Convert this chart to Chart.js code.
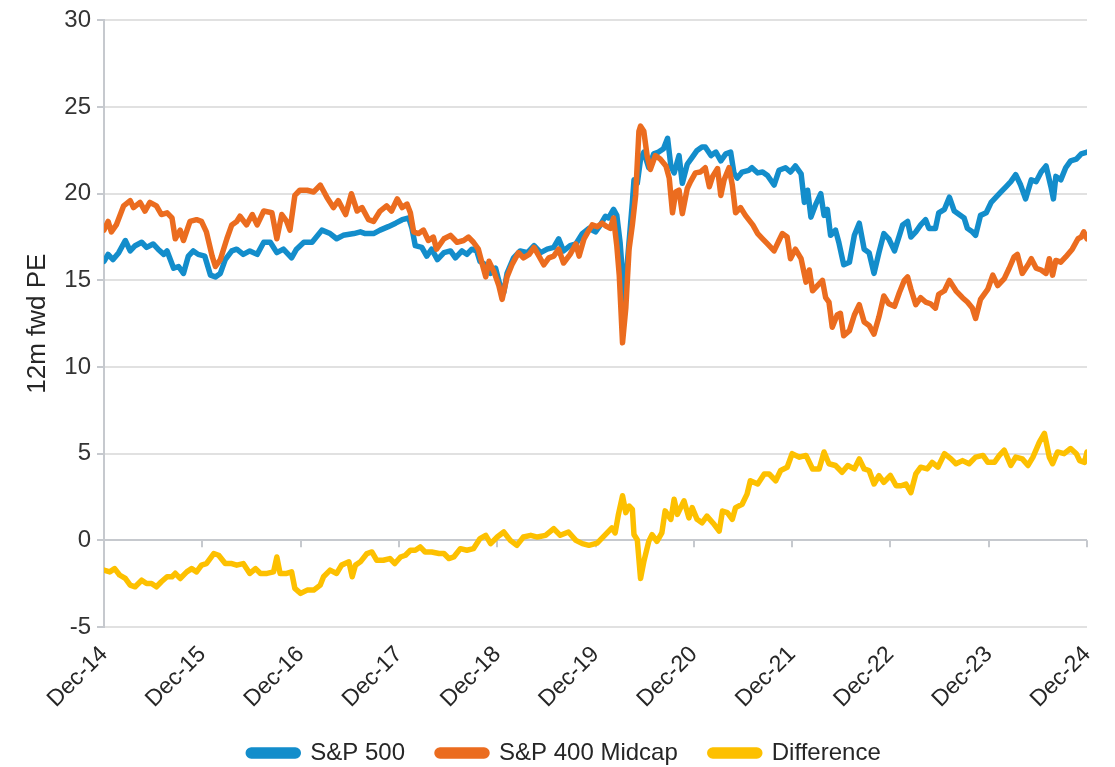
<!DOCTYPE html>
<html>
<head>
<meta charset="utf-8">
<script src="https://cdn.jsdelivr.net/npm/chart.js@4.4.1/dist/chart.umd.min.js"></script>
<style>
  body { margin: 0; background: #fff; }
  #wrap { width: 1115px; height: 767px; }
</style>
</head>
<body>
<div id="wrap"><canvas id="peChart" width="1115" height="767"></canvas></div>
<script>
// x = months since Dec-14, y = 12m fwd PE
const tickLabels = ['Dec-14', 'Dec-15', 'Dec-16', 'Dec-17', 'Dec-18', 'Dec-19', 'Dec-20', 'Dec-21', 'Dec-22', 'Dec-23', 'Dec-24'];
const seriesNames = ['S&P 500', 'S&P 400 Midcap', 'Difference'];

const sp500 = [
  [0, 16.1], [0.5, 16.5], [1.1, 16.2], [1.8, 16.6], [2.6, 17.3], [3.2, 16.7], [3.8, 17.0], [4.6, 17.2], [5.2, 16.9], [6.0, 17.1],
  [6.6, 16.8], [7.3, 16.5], [7.7, 16.7], [8.5, 15.7], [9.1, 15.8], [9.7, 15.4], [10.3, 16.4], [10.9, 16.7], [11.5, 16.5], [12.3, 16.4],
  [13.0, 15.3], [13.6, 15.2], [14.2, 15.4], [14.8, 16.2], [15.6, 16.7], [16.2, 16.8], [17.0, 16.5], [17.8, 16.7], [18.7, 16.5], [19.5, 17.2],
  [20.3, 17.2], [21.1, 16.6], [21.9, 16.8], [22.9, 16.3], [23.5, 16.8], [24.4, 17.2], [25.4, 17.2], [26.6, 17.9], [27.6, 17.7], [28.4, 17.4],
  [29.2, 17.6], [30.5, 17.7], [31.3, 17.8], [31.9, 17.7], [32.9, 17.7], [33.7, 17.9], [34.7, 18.1], [35.6, 18.3], [36.4, 18.5], [37.2, 18.6],
  [37.6, 18.0], [38.0, 17.0], [38.8, 16.9], [39.4, 16.4], [40.0, 16.8], [40.7, 16.2], [41.5, 16.6], [42.3, 16.7], [42.9, 16.3], [43.7, 16.7],
  [44.3, 16.5], [44.9, 16.8], [45.5, 16.7], [45.9, 16.1], [46.6, 15.9], [47.2, 15.4], [47.8, 15.7], [48.4, 14.6], [48.8, 14.3], [49.2, 15.4],
  [50.0, 16.3], [50.8, 16.7], [51.7, 16.6], [52.5, 17.0], [53.3, 16.6], [54.1, 16.8], [54.9, 16.9], [55.5, 17.4], [56.1, 16.7], [56.9, 17.0],
  [57.6, 17.1], [58.4, 17.7], [59.2, 18.0], [60.0, 17.8], [60.6, 18.2], [61.2, 18.7], [61.6, 18.6], [62.2, 19.1], [62.6, 18.75], [63.0, 17.2],
  [63.3, 15.3], [63.5, 13.8], [63.9, 16.1], [64.5, 19.5], [64.7, 20.8], [65.1, 20.6], [65.5, 22.0], [65.9, 22.4], [66.5, 21.5], [67.1, 22.3],
  [67.7, 22.4], [68.3, 22.6], [68.8, 23.2], [69.2, 21.6], [69.6, 21.2], [70.2, 22.2], [70.6, 20.6], [71.2, 21.7], [71.8, 22.1], [72.4, 22.5],
  [73.0, 22.7], [73.4, 22.7], [74.1, 22.2], [74.7, 22.4], [75.3, 21.9], [75.9, 22.3], [76.5, 22.4], [76.9, 21.2], [77.3, 20.9], [77.9, 21.25],
  [78.7, 21.35], [79.1, 21.5], [79.8, 21.2], [80.4, 21.25], [81.0, 21.05], [81.8, 20.5], [82.4, 21.35], [83.2, 21.5], [83.8, 21.25], [84.4, 21.6],
  [85.1, 21.15], [85.5, 19.5], [85.9, 20.2], [86.3, 18.65], [86.9, 19.4], [87.5, 20.0], [87.9, 18.75], [88.3, 19.1], [88.7, 17.6], [89.3, 17.9],
  [89.7, 17.2], [90.3, 15.9], [91.0, 16.05], [91.6, 17.6], [92.2, 18.3], [92.8, 16.8], [93.4, 16.6], [94.0, 15.4], [94.6, 16.6], [95.2, 17.7],
  [95.8, 17.4], [96.5, 16.7], [97.1, 17.6], [97.5, 18.2], [98.1, 18.4], [98.5, 17.5], [99.1, 17.8], [99.7, 18.2], [100.3, 18.5], [100.7, 18.0],
  [101.5, 18.0], [101.9, 18.9], [102.6, 19.1], [103.2, 19.8], [103.8, 19.0], [104.4, 18.8], [105.0, 18.6], [105.4, 18.0], [106.0, 17.8], [106.4, 17.6],
  [107.0, 18.75], [107.7, 18.9], [108.3, 19.5], [108.9, 19.8], [109.5, 20.1], [110.1, 20.4], [110.7, 20.7], [111.3, 21.1], [111.9, 20.5], [112.5, 19.7],
  [113.2, 20.8], [113.8, 20.7], [114.4, 21.25], [115.0, 21.6], [115.6, 20.4], [115.9, 19.7], [116.2, 21.0], [116.8, 20.8], [117.4, 21.5], [118.0, 21.9],
  [118.7, 22.0], [119.3, 22.3], [120.0, 22.4]
];

const midcap = [
  [0, 17.9], [0.5, 18.4], [0.9, 17.8], [1.5, 18.2], [2.4, 19.3], [3.2, 19.6], [3.6, 19.2], [4.4, 19.5], [5.0, 19.0], [5.6, 19.5],
  [6.4, 19.3], [7.0, 18.8], [7.7, 18.9], [8.3, 18.6], [8.7, 17.4], [9.3, 17.9], [9.7, 17.3], [10.5, 18.4], [11.3, 18.5], [11.9, 18.4],
  [12.5, 17.8], [13.2, 16.4], [13.6, 15.8], [14.2, 16.2], [15.0, 17.4], [15.6, 18.2], [16.2, 18.4], [16.6, 18.7], [17.4, 18.2], [18.1, 18.8],
  [18.7, 18.2], [19.5, 19.0], [20.5, 18.9], [21.1, 17.4], [21.7, 18.8], [22.3, 18.4], [22.7, 17.9], [23.3, 19.9], [23.9, 20.2], [24.8, 20.2],
  [25.6, 20.1], [26.4, 20.5], [27.2, 19.8], [28.0, 19.2], [28.6, 19.6], [29.5, 18.8], [30.2, 20.0], [30.9, 19.0], [31.5, 19.2], [32.3, 18.5],
  [32.9, 18.4], [33.7, 19.0], [34.5, 19.3], [35.1, 19.0], [35.8, 19.7], [36.4, 19.2], [37.0, 19.4], [37.4, 18.9], [37.8, 17.8], [38.4, 17.7],
  [39.0, 17.9], [39.6, 17.3], [40.2, 17.5], [40.6, 16.8], [41.5, 17.4], [42.3, 17.6], [43.1, 17.2], [43.9, 17.3], [44.5, 17.5], [45.1, 17.2],
  [45.7, 16.8], [46.2, 15.9], [46.6, 15.2], [47.0, 16.1], [47.6, 15.5], [48.2, 14.7], [48.6, 13.9], [49.2, 15.2], [49.8, 15.9], [50.6, 16.6],
  [51.2, 16.3], [51.9, 16.5], [52.5, 16.9], [53.1, 16.4], [53.7, 15.9], [54.3, 16.3], [54.9, 16.4], [55.5, 16.8], [56.1, 16.0], [56.9, 16.5],
  [57.6, 17.1], [58.0, 16.4], [58.6, 17.4], [59.2, 17.9], [59.6, 18.2], [60.2, 18.1], [60.8, 18.3], [61.4, 18.1], [61.8, 18.0], [62.2, 18.6],
  [62.6, 17.0], [62.9, 15.3], [63.3, 11.4], [63.7, 13.4], [64.1, 16.8], [64.5, 18.2], [64.9, 19.9], [65.3, 23.6], [65.5, 23.9], [65.9, 23.6],
  [66.3, 22.2], [66.7, 21.4], [67.3, 22.2], [67.9, 22.0], [68.6, 21.6], [69.0, 20.9], [69.4, 18.9], [69.8, 20.1], [70.2, 20.2], [70.6, 18.85],
  [71.2, 20.3], [71.6, 20.7], [72.2, 21.2], [72.8, 21.25], [73.4, 21.5], [73.9, 20.4], [74.3, 21.0], [74.9, 21.45], [75.3, 19.9], [75.7, 20.8],
  [76.3, 21.5], [76.7, 20.5], [77.1, 18.9], [77.7, 19.2], [78.3, 18.75], [79.2, 18.2], [79.8, 17.7], [80.4, 17.4], [81.0, 17.1], [81.8, 16.7],
  [82.4, 17.3], [82.8, 17.7], [83.4, 17.5], [83.8, 16.25], [84.4, 16.8], [85.1, 16.25], [85.7, 14.9], [86.1, 15.6], [86.5, 14.4], [87.1, 14.7],
  [87.7, 15.0], [88.1, 14.0], [88.5, 13.75], [88.9, 12.3], [89.5, 13.0], [89.9, 13.1], [90.3, 11.8], [91.0, 12.1], [91.6, 13.0], [92.2, 13.6],
  [92.8, 12.6], [93.4, 12.4], [94.0, 11.9], [94.6, 12.9], [95.2, 14.1], [95.8, 13.65], [96.5, 13.5], [97.1, 14.3], [97.7, 15.0], [98.1, 15.2],
  [98.5, 14.5], [99.1, 13.6], [99.7, 14.0], [100.3, 13.75], [100.9, 13.65], [101.5, 13.4], [101.9, 14.2], [102.6, 14.4], [103.2, 15.0], [104.0, 14.4],
  [104.8, 14.0], [105.4, 13.75], [106.0, 13.4], [106.4, 12.8], [107.0, 13.9], [107.9, 14.5], [108.5, 15.3], [109.1, 14.7], [109.9, 15.1], [110.5, 15.7],
  [111.1, 16.35], [111.5, 16.5], [112.1, 15.4], [112.8, 15.9], [113.2, 16.25], [113.8, 15.7], [114.4, 15.6], [115.0, 15.4], [115.4, 16.25], [115.8, 15.3],
  [116.2, 16.15], [116.8, 16.05], [117.4, 16.35], [118.2, 16.8], [118.9, 17.4], [119.3, 17.5], [119.6, 17.8], [120.0, 17.4]
];

const difference = [
  [0, -1.72], [0.7, -1.82], [1.3, -1.63], [1.9, -2.0], [2.6, -2.2], [3.2, -2.58], [3.8, -2.68], [4.6, -2.3], [5.2, -2.49], [5.8, -2.49],
  [6.4, -2.68], [7.0, -2.39], [7.7, -2.1], [8.3, -2.1], [8.7, -1.9], [9.3, -2.2], [10.1, -1.82], [10.7, -1.63], [11.3, -1.82], [11.9, -1.43],
  [12.5, -1.34], [13.4, -0.76], [14.0, -0.86], [14.8, -1.34], [15.6, -1.34], [16.2, -1.43], [17.0, -1.34], [17.8, -1.91], [18.5, -1.63], [19.1, -1.91],
  [19.9, -1.91], [20.7, -1.82], [21.1, -0.96], [21.5, -1.91], [22.3, -1.91], [22.9, -1.82], [23.3, -2.77], [24.0, -3.06], [24.8, -2.87], [25.6, -2.87],
  [26.4, -2.58], [26.8, -2.1], [27.6, -1.72], [28.4, -1.91], [29.0, -1.43], [29.9, -1.24], [30.3, -2.1], [30.7, -1.43], [31.3, -1.24], [32.1, -0.76],
  [32.7, -0.67], [33.3, -1.15], [34.1, -1.15], [34.9, -1.05], [35.5, -1.34], [36.2, -0.96], [36.8, -0.86], [37.4, -0.57], [38.0, -0.57], [38.6, -0.38],
  [39.2, -0.67], [40.0, -0.67], [40.9, -0.76], [41.5, -0.76], [42.1, -1.05], [42.7, -0.96], [43.5, -0.48], [44.3, -0.57], [45.1, -0.48], [45.9, 0.1],
  [46.6, 0.29], [47.2, -0.19], [48.0, 0.19], [48.8, 0.48], [49.6, 0.0], [50.4, -0.29], [51.2, 0.19], [52.1, 0.29], [52.9, 0.19], [53.9, 0.29],
  [54.9, 0.67], [55.7, 0.29], [56.7, 0.48], [57.6, 0.0], [58.4, -0.19], [59.2, -0.29], [60.2, -0.16], [61.0, 0.23], [62.0, 0.72], [62.4, 0.43],
  [62.8, 1.5], [63.3, 2.57], [63.7, 1.6], [64.1, 1.98], [64.5, 1.79], [64.7, 0.33], [65.1, 0.04], [65.5, -2.2], [65.9, -1.23], [66.5, -0.06],
  [66.9, 0.33], [67.5, -0.06], [68.1, 0.43], [68.5, 1.7], [69.2, 1.21], [69.6, 2.37], [70.0, 1.5], [70.8, 2.28], [71.4, 1.3], [71.8, 1.89],
  [72.4, 1.21], [73.0, 1.01], [73.6, 1.4], [74.5, 0.91], [75.1, 0.53], [75.5, 1.69], [76.1, 1.6], [76.7, 1.21], [77.1, 1.89], [77.9, 2.08],
  [78.5, 2.67], [78.9, 3.44], [79.8, 3.25], [80.6, 3.83], [81.2, 3.83], [82.0, 3.44], [82.6, 4.03], [83.4, 4.22], [84.0, 5.0], [84.9, 4.8],
  [85.7, 4.9], [86.5, 4.12], [87.3, 4.12], [87.9, 5.1], [88.5, 4.42], [89.3, 4.32], [90.1, 3.93], [90.8, 4.32], [91.6, 4.12], [92.2, 4.7],
  [92.8, 4.12], [93.4, 4.03], [94.0, 3.25], [94.6, 3.74], [95.2, 3.35], [96.0, 3.74], [96.7, 3.15], [97.3, 3.15], [97.9, 3.25], [98.5, 2.76],
  [99.1, 3.83], [99.7, 4.22], [100.5, 4.12], [101.1, 4.5], [101.8, 4.22], [102.6, 5.0], [103.4, 4.7], [104.0, 4.42], [104.8, 4.6], [105.6, 4.42],
  [106.4, 4.8], [107.3, 4.9], [107.9, 4.5], [108.7, 4.5], [109.3, 4.9], [109.9, 5.2], [110.7, 4.32], [111.3, 4.8], [112.1, 4.7], [112.8, 4.32],
  [113.4, 4.8], [114.2, 5.68], [114.8, 6.17], [115.4, 4.8], [115.8, 4.42], [116.4, 5.1], [117.2, 5.0], [118.0, 5.3], [118.7, 5.0], [119.1, 4.6],
  [119.7, 4.5], [120.0, 5.1]
];

const FONT = "'Liberation Sans', Arial, sans-serif";
const toPoints = arr => arr.map(([x, y]) => ({ x, y }));

// small tick marks hanging below the zero line, one per year label
const zeroTicks = {
  id: 'zeroTicks',
  beforeDatasetsDraw(chart) {
    const { ctx, scales: { x, y } } = chart;
    const y0 = y.getPixelForValue(0);
    ctx.save();
    ctx.strokeStyle = '#c6c9ce';
    ctx.lineWidth = 2;
    x.ticks.forEach(t => {
      const px = Math.round(x.getPixelForValue(t.value));
      ctx.beginPath();
      ctx.moveTo(px, y0);
      ctx.lineTo(px, y0 + 7);
      ctx.stroke();
    });
    ctx.restore();
  }
};

// shift the legend row a little to the right, like the original
const legendNudge = {
  id: 'legendNudge',
  afterLayout(chart) {
    const lg = chart.legend;
    if (!lg) return;
    lg.left += 20;
    lg.top -= 2;
    lg.bottom -= 2;
  }
};

const line = (label, data, color, order) => ({
  label,
  data: toPoints(data),
  borderColor: color,
  backgroundColor: color,
  borderWidth: 5.5,
  pointRadius: 0,
  tension: 0,
  borderCapStyle: 'round',
  borderJoinStyle: 'round',
  order
});

new Chart(document.getElementById('peChart'), {
  type: 'line',
  data: {
    datasets: [
      line(seriesNames[0], sp500, '#138dcb', 1),
      line(seriesNames[1], midcap, '#eb6c1f', 0),
      line(seriesNames[2], difference, '#fdc000', 2)
    ]
  },
  plugins: [zeroTicks, legendNudge],
  options: {
    responsive: false,
    animation: false,
    layout: { padding: { top: 0, right: 28, bottom: 0, left: 22 } },
    plugins: {
      tooltip: { enabled: false },
      legend: {
        position: 'bottom',
        maxHeight: 56,
        labels: {
          sort: (a, b) => a.datasetIndex - b.datasetIndex,
          font: { family: FONT, size: 24 },
          color: '#262626',
          boxWidth: 50,
          boxHeight: 6,
          padding: 32,
          useBorderRadius: true,
          borderRadius: 3
        }
      }
    },
    scales: {
      x: {
        type: 'linear',
        min: 0,
        max: 120,
        grid: { display: false },
        border: { display: false },
        afterBuildTicks: axis => {
          axis.ticks = tickLabels.map((_, i) => ({ value: i * 12 }));
        },
        afterFit: axis => { axis.height = 84; },
        ticks: {
          autoSkip: false,
          minRotation: 45,
          maxRotation: 45,
          padding: 6,
          font: { family: FONT, size: 23 },
          color: '#262626',
          callback: (v) => tickLabels[Math.round(v / 12)]
        }
      },
      y: {
        min: -5,
        max: 30,
        afterFit: axis => { axis.width = 82; },
        ticks: {
          stepSize: 5,
          padding: 6,
          font: { family: FONT, size: 24 },
          color: '#333333'
        },
        grid: {
          color: c => (c.tick && c.tick.value === 0 ? '#c6c9ce' : '#e1e1e1'),
          lineWidth: 2,
          tickLength: 7,
          tickColor: '#c6c9ce'
        },
        border: { color: '#c6c9ce', width: 2 },
        title: {
          display: true,
          text: '12m fwd PE',
          font: { family: FONT, size: 26 },
          color: '#262626',
          padding: 0
        }
      }
    }
  }
});
</script>
</body>
</html>
